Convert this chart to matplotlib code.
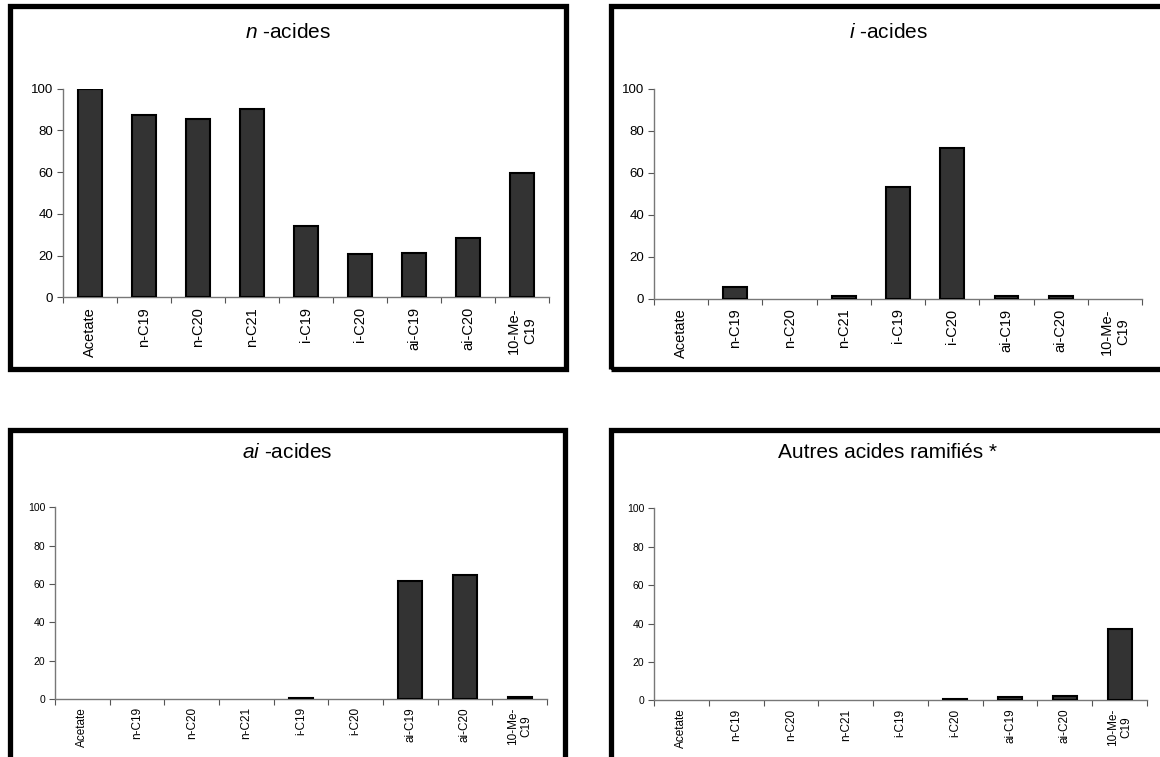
import matplotlib
matplotlib.use("Agg")
import matplotlib.pyplot as plt
from matplotlib.patches import Rectangle

plt.rcParams["font.family"] = ["Liberation Sans", "DejaVu Sans"]
plt.rcParams["mathtext.fontset"] = "custom"
plt.rcParams["mathtext.rm"] = "Liberation Sans"
plt.rcParams["mathtext.it"] = "Liberation Sans:italic"

# Data (relative abundance, %)
categories = ["Acetate", "n-C19", "n-C20", "n-C21", "i-C19", "i-C20",
              "ai-C19", "ai-C20", "10-Me-\nC19"]
n_acides = [100, 87.4, 85.6, 90.3, 34.3, 20.6, 21.1, 28.4, 59.7]
i_acides = [0, 5.4, 0, 1.1, 53.2, 71.6, 1.1, 1.4, 0]
ai_acides = [0, 0, 0, 0, 0.7, 0, 61.7, 64.9, 1.2]
autres_acides = [0, 0, 0, 0, 0, 0.9, 1.7, 2.4, 37.3]
y_ticks = [0, 20, 40, 60, 80, 100]

titles = [r"$\mathit{n}$ -acides", r"$\mathit{i}$ -acides",
          r"$\mathit{ai}$ -acides", "Autres acides ramifiés *"]

W, H = 1160, 757
fig = plt.figure(figsize=(W / 100, H / 100), dpi=100)
fig.patch.set_facecolor("white")


def px_axes(x0, x1, y_top, y_bot):
    return fig.add_axes([x0 / W, 1 - y_bot / H, (x1 - x0) / W, (y_bot - y_top) / H])


def frame(x0, x1, y0, y1):
    # thick black chart-area border, pixel coords from top-left
    fig.patches.append(Rectangle((x0 / W, 1 - y1 / H), (x1 - x0) / W, (y1 - y0) / H,
                                 transform=fig.transFigure, fill=False,
                                 edgecolor="black", linewidth=3.8, zorder=0))


def bar_panel(ax, values, tick_fs, cat_fs, cat_pad):
    xs = [i for i, v in enumerate(values) if v > 0]
    hs = [v for v in values if v > 0]
    ax.bar(xs, hs, width=0.44, color="#333333", edgecolor="black", linewidth=1.5, zorder=3)
    ax.set_xlim(-0.5, len(categories) - 0.5)
    ax.set_ylim(0, 100)
    ax.set_yticks(y_ticks)
    ax.tick_params(axis="y", labelsize=tick_fs, length=4, color="#555555", pad=3)
    # ticks between categories, labels at centres
    ax.set_xticks([i - 0.5 for i in range(len(categories) + 1)])
    ax.set_xticklabels([])
    ax.set_xticks(range(len(categories)), minor=True)
    ax.set_xticklabels(categories, minor=True, rotation=90, fontsize=cat_fs,
                       multialignment="center")
    ax.tick_params(axis="x", which="major", length=4, color="#555555")
    ax.tick_params(axis="x", which="minor", length=0, pad=cat_pad)
    for s in ("top", "right"):
        ax.spines[s].set_visible(False)
    for s in ("left", "bottom"):
        ax.spines[s].set_color("#777777")
        ax.spines[s].set_linewidth(1.0)
    ax.set_facecolor("none")


frame(9.5, 565.5, 6.5, 369.5)
frame(610.5, 1175, 6.5, 369.5)
frame(9.5, 564.5, 429.5, 775)
frame(610.5, 1175, 429.5, 775)

ax1 = px_axes(62.7, 549, 88.7, 297.3)
ax2 = px_axes(654, 1142, 88.7, 298.7)
ax3 = px_axes(55, 547, 507.3, 699)
ax4 = px_axes(654, 1147, 508.3, 700.3)

bar_panel(ax1, n_acides, 9.5, 10.5, 7)
bar_panel(ax2, i_acides, 9.5, 10.5, 7)
bar_panel(ax3, ai_acides, 7.5, 8.5, 6)
bar_panel(ax4, autres_acides, 7.5, 8.5, 6)

for (cx, cy), t in zip([(288, 33), (888, 33), (287, 453), (887, 453)], titles):
    fig.text(cx / W, 1 - cy / H, t, ha="center", va="center", fontsize=15)

fig.savefig("out.png", dpi=100, facecolor=fig.get_facecolor())
